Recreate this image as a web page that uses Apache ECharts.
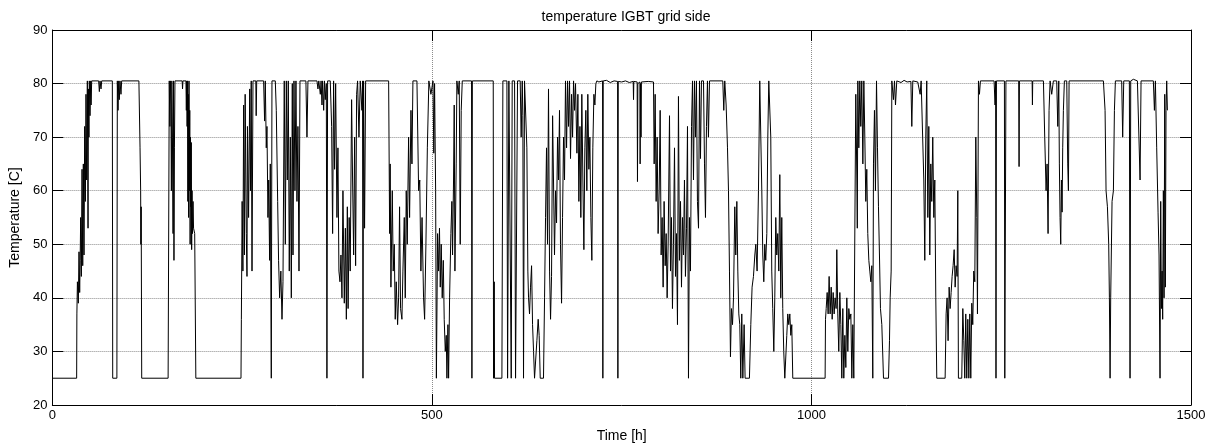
<!DOCTYPE html>
<html>
<head>
<meta charset="utf-8">
<title>temperature IGBT grid side</title>
<script src="https://cdn.jsdelivr.net/npm/echarts/dist/echarts.min.js"></script>
<style>
  html, body { margin: 0; padding: 0; background: #fff; }
  #chart { width: 1210px; height: 448px; }
</style>
</head>
<body>
<div id="chart"></div>
<script>
// [hour, temperature °C], one array per stretch of time
var run0 = [[0,25],[32,25],[32.3,37],[33,43],[34.2,39],[35.1,48.6],[36,41],[36.6,47],[37.3,55],[38.2,44],[39.1,64],[40,46],[40.8,65],[41.7,48],[42.6,72],[43.5,58],[44.3,78],[45.2,62],[46.1,80.5],[47,53],[47.5,79],[48.2,70],[48.7,80.5],[49.6,74],[50.5,80.5],[51,76],[51.8,80.5],[61,80.5],[61.9,78.5],[62.8,80.5],[64.1,79],[65,80.5],[79,80.5],[79.5,25],[85,25],[85.6,80.5],[86.5,75],[87.4,80.5],[88.2,77],[89.1,80.5],[90.4,78],[91.3,80.5],[114,80.5],[115.5,68],[116.3,60],[116.6,50],[117,57],[117.7,25],[152.5,25],[153.5,62],[154,80.5],[154.8,72],[155.5,80.5],[156.2,76],[156.8,60],[157.4,80.5],[158.2,70],[159,52],[159.6,80.5],[160.2,47],[160.8,68],[161.5,80.5],[171,80.5],[171.5,79],[172,80.5],[176,80.5],[176.5,75],[177,80.5],[177.5,72],[178,80.5],[178.5,58],[179,78],[179.5,55],[180,80.5],[180.5,60],[181,75],[181.5,50],[182,70],[182.5,57],[183,69],[183.5,49],[184,60],[184.6,52],[185.3,58],[186,53],[187.5,52],[189,25],[248.5,25]];
var run1 = [[249,36],[250,58],[251,45],[252,76],[253,48],[254,78],[255.5,52],[256.4,44],[257,72],[258.5,55],[260,79],[261,60],[262,80.5],[263,45],[264.3,80.5],[268,80.5],[268.5,74],[269.2,80.5],[278.3,80.5],[279.6,73],[280.5,80.5],[281.8,68],[282.7,72],[284,55],[285,62],[286.2,47],[287.1,65],[288.4,25],[289.3,80.5],[293.7,80.5],[295,75],[296.8,58],[298,47],[299.4,40],[301,45],[302.5,36],[303.8,43],[305.5,80.5],[306.9,50],[308.2,80.5],[309.5,62],[310.8,80.5],[312.1,45],[313.5,70],[314.8,40],[316.1,80],[317,48],[318.3,80.5],[319.6,60],[320.9,80.5],[322.2,58],[323.5,72],[324.9,45],[326.2,80.5],[334,80.5],[335.4,70],[336.7,80.5],[348.6,80.5],[349.9,79],[351,80.5],[353,78],[354,80.5],[355.2,76],[356,80.5],[357.4,75],[358.5,80.5],[359.5,77],[360.9,80],[361.7,25],[362.6,80.5],[366.1,80.5],[367.9,72],[369.2,52],[370.5,80.5],[371.8,64],[373.2,80],[374.9,55],[376.2,68],[377.5,45],[378.9,43],[380.2,48],[381.5,40],[382.8,60],[384.6,39],[386,53],[387.3,36],[388.6,57],[389.6,38],[391,55],[392.4,45],[394.2,77],[395.5,62],[396.9,48],[398.2,70],[399.5,46],[400.8,78],[402.1,80.5],[403.9,70],[405.6,80.5],[407.8,75],[408.6,80.5],[409.2,25],[410,80.5],[411.3,53],[412.7,80.5],[443,80.5],[444.3,52],[445,65],[446,42],[447.8,60],[449,45],[450.4,50],[451.7,36],[453,43],[454.8,35],[456.1,40],[457.4,57],[458.7,38],[460.5,36],[461.8,45],[463.6,55],[464.9,40],[466.2,60],[467.5,50],[469.3,70],[470.6,55],[472.4,75],[473.7,65],[475,80.5],[480.3,80.5],[482.5,60],[484,62],[485.5,45],[487,55],[489,40],[490.4,36],[492.1,50],[494,68],[496,80.5],[498.7,78],[501.4,80.5],[502.5,67],[503.5,80],[504.9,60],[505.9,25]];
var run2 = [[506.8,25],[507.5,52],[508.8,45],[510,53],[511,42],[512.3,50],[513.6,40],[515,47],[516.2,36],[517.6,30],[518.9,33],[519.8,25],[521.1,35],[522,25],[523.3,40],[525,52],[526.3,58],[527.2,48],[528.5,62],[529.4,76],[530.3,45],[532,65],[532.9,80.5],[534.7,78],[536,80.5],[537.3,50],[538.6,75],[540,80.5],[552.2,80.5],[552.7,25],[553.3,80.5],[580.8,80.5],[581.2,25],[582.1,43],[582.5,25],[592.2,25],[593.5,80.5],[598.8,80.5],[599.7,25],[600.5,25],[601.4,80.5],[603.2,80.5],[604.5,25],[605.8,80.5],[608.9,80.5],[610.2,25],[611.5,25],[612.8,80.5],[616.3,80.5],[617.6,70],[619,80.5],[619.8,74],[620.7,25],[622,80.5],[623.8,80.5],[625.1,68],[626.4,45],[627.3,40],[628.6,37],[629.9,42],[631.3,46],[632.6,35],[633.9,30],[635.2,25],[637,25],[638.3,32],[640,36],[641.3,33],[642.7,25],[647,25],[648.4,40],[649.7,55],[651,68],[652.3,50],[653.6,79],[655,45],[656.3,36],[657.6,44],[659,74],[660.2,62],[661.5,48],[662.9,60],[664.2,54],[665.5,70],[666.8,62],[668.1,75],[669.4,50],[670.8,39],[672.1,55],[673.4,70],[674.7,62],[676,80.5],[677.4,68],[678.7,80.5],[680,72],[681.3,80.5],[682.6,66],[684,78],[685.3,70],[686.6,80.5],[687.9,75],[689.2,80],[691,67],[692.3,78],[693.6,58],[695,72],[696.2,55],[697.5,78],[698.9,62],[700.2,49],[701.5,68],[702.8,75],[704.1,60],[705.4,78],[706.8,64],[708.1,70],[709.4,55],[710.7,47],[712,68],[713.4,78],[714.7,76],[716,80],[717.3,80.5],[720,80.3],[724.8,80.5],[725.2,25],[725.7,80.5],[730,80.6],[735,80.2],[740,80.5],[744.6,80.4],[745,25],[745.5,80.4],[750,80.3]];
var run3 = [[755,80.5],[760,80.2],[765.2,80.4],[765.6,77],[766,80.4],[770.4,80.3],[770.8,61.7],[771.3,80],[774,80.3],[774.3,65],[774.8,80],[775.5,70],[776,80.3],[785,80.4],[791.9,80.3],[792.8,65],[794.1,78],[795.4,58],[796.7,70],[798,52],[799.4,60],[800.7,75],[802,48],[803.3,55],[804.6,42],[805.9,58],[807.3,46],[808.6,52],[809.9,40],[811.2,50],[813,74],[814.3,45],[815.6,55],[816.9,38],[818.2,50],[819.6,68],[820.9,44],[822.2,52],[823.5,35],[824.8,77.6],[826.1,47],[827.5,58],[828.8,42],[830.1,55],[831.4,48],[832.7,62],[834,44],[835.4,53],[836.7,72],[838,25],[839.3,55],[840.6,45],[842,72],[843.3,80.5],[844.6,62],[845.9,80.5],[847.2,70],[848.5,80.5],[849.8,58],[851.2,53],[852.5,80.5],[853.8,66],[855.1,80.5],[857.8,80.5],[859.1,65],[860.4,55],[861.7,72],[863,80.5],[864.3,70],[865.7,80.5],[883.2,80.5],[884.5,75],[885.8,80.5],[887.6,76],[889.4,68],[890.7,60],[892,45],[893.3,29],[894.6,38],[896,35],[897.3,40],[899,57],[900.3,48],[901.7,58],[903,45],[904.3,37],[905.6,35],[906.9,25],[908.2,37],[909.6,25],[911.3,35],[912.6,25],[918.3,25],[920.1,35],[921.8,42],[923.6,44],[925.4,48],[926.7,50],[928.4,45],[930.2,60],[931.9,80.5],[933.3,80.5],[934.6,60],[935.9,48],[937.2,43],[938.5,50],[939.8,47],[941.2,52],[942.5,70],[943.8,80.5],[945.1,80.5],[946.4,70],[947.7,45],[949,38],[950.4,30],[951.7,40],[953,55],[954.3,48],[955.6,52],[957,45],[958.3,63],[959.6,40],[960.9,55],[962.2,38],[963.5,30],[964.9,25],[966.2,25],[967.5,33],[968.8,37],[970.1,35],[971.5,37],[972.8,33],[974.1,35],[975.4,25],[1018,25]];
var run4 = [[1018.5,36],[1019.4,38],[1020.7,41],[1022,37],[1023.3,44],[1024.6,37],[1026,42],[1027.3,36],[1028.6,41],[1029.9,37],[1031.2,40],[1032.5,38],[1033.4,49],[1034.7,37],[1036,30],[1037.4,41],[1038.7,35],[1040,25],[1041.3,38],[1042.6,25],[1044,33],[1045.3,27],[1046.6,40],[1047.9,30],[1049.2,38],[1050.5,36],[1051.9,37],[1053.2,25],[1054.5,35],[1055.8,25],[1057.1,25],[1058.4,78],[1059.8,62],[1060.4,53],[1061.1,80.5],[1062.4,68],[1063.7,80.5],[1065,72],[1066.3,80.5],[1067.7,65],[1069,80.5],[1070.3,70],[1071.6,58],[1072.9,64],[1074.2,52],[1075.6,47],[1076.9,45],[1078.2,43],[1079.5,46],[1080.8,25],[1081.7,65],[1083,75],[1084.3,60],[1085.7,80.5],[1087,68],[1088.3,57],[1089.6,48],[1090.9,38],[1092.7,35],[1094.9,25],[1101.5,25],[1102.8,32],[1103.7,40],[1105,45],[1105.9,80.5],[1108,77],[1109.4,80.5],[1110.7,76],[1112.4,80.5],[1118,80.2],[1122,80.6],[1126,80.3],[1131,80.4],[1132.2,72],[1133.5,80.5],[1140,80.3],[1143.2,78],[1144.5,80.5],[1146.7,80.5],[1148,62],[1149.3,47],[1150.6,70],[1151.9,80.5],[1153.3,55],[1154.6,72],[1155.9,48],[1157.2,65],[1158.5,58],[1159.8,70],[1161.2,55],[1162.5,62],[1163.8,40],[1165.1,25],[1176.1,25],[1177.4,37],[1178.7,40],[1180,32],[1181.4,42],[1182.7,38],[1184,41],[1185.3,44],[1186.6,46],[1188,49],[1189.3,42],[1190.6,46],[1191.9,44],[1192.8,60],[1193.6,25],[1198,25],[1199.4,38],[1200.7,32],[1202,25],[1203.3,37],[1204.6,25],[1206,36],[1207.3,25],[1208.6,37],[1209.9,25],[1211.2,39],[1212.5,35],[1213.8,45],[1215.2,43],[1216.5,70],[1217.8,55],[1218.7,37],[1220,80.5],[1221.3,78],[1222.6,80.5],[1240.6,80.5],[1241.9,76],[1242.6,80.5],[1243.1,25],[1243.7,80.5],[1254.2,80.5],[1254.7,25],[1255.6,25],[1256.2,80.5]];
var run5 = [[1273,80.5],[1273.5,64.5],[1274,80.5],[1290.7,80.5],[1291.1,76],[1291.5,80.5],[1305.6,80.5],[1307.3,70],[1309.1,60],[1310.4,65],[1311.7,52],[1313,75],[1314.4,80.5],[1316.5,78],[1318.7,80.5],[1323.1,80.5],[1324.5,72],[1325.8,80.5],[1326.6,65],[1327.5,55],[1328.4,50],[1329.3,62],[1330.2,56],[1331,68],[1331.9,75],[1333.2,80.5],[1336.3,80.5],[1337.6,65],[1338.5,60],[1339.4,80.5],[1384.6,80.5],[1386.8,75],[1388.1,60],[1389.9,57],[1391.6,50],[1392.5,40],[1393.4,25],[1394.2,40],[1396,58],[1397.8,60],[1399.1,75],[1400.4,80.5],[1408.7,80.5],[1410,70],[1411.4,80.5],[1418.8,80.5],[1419.7,25],[1420.6,80.5],[1424.1,80.8],[1426.3,81],[1429.4,80.5],[1432,80.5],[1432.9,62],[1434.2,80.5],[1450.4,80.5],[1451.8,75],[1453.1,80.5],[1454.8,68],[1456.6,56],[1457.9,48],[1459.2,25],[1460.1,58],[1461,38],[1461.9,45],[1462.7,36],[1463.6,60],[1464.5,40],[1465.4,78],[1466.2,42],[1467.1,75],[1468,80.5],[1468.9,75]];

var xTicks = [0, 500, 1000, 1500];
var yTicks = [20, 30, 40, 50, 60, 70, 80, 90];

var tempData = [].concat(run0, run1, run2, run3, run4, run5);

var font = 'Liberation Sans, Arial, sans-serif';
var myChart = echarts.init(document.getElementById('chart'));

var boxAxis = function (pos, isX) {
  return {
    type: 'value',
    position: pos,
    min: isX ? xTicks[0] : yTicks[0],
    max: isX ? xTicks[xTicks.length - 1] : yTicks[yTicks.length - 1],
    interval: isX ? 500 : 10,
    axisLine: { show: true, onZero: false, lineStyle: { color: '#000', width: 1 } },
    axisTick: { show: true, inside: true, length: 11, lineStyle: { color: '#000' } },
    axisLabel: { show: false },
    splitLine: { show: false }
  };
};

var option = {
  animation: false,
  backgroundColor: '#fff',
  title: {
    text: 'temperature IGBT grid side',
    left: 621,
    top: 5,
    textAlign: 'center',
    textStyle: { fontSize: 14, fontWeight: 'normal', color: '#000', fontFamily: font }
  },
  grid: { left: 52, right: 19, top: 30, bottom: 43 },
  xAxis: [
    {
      type: 'value',
      position: 'bottom',
      min: 0,
      max: 1500,
      interval: 500,
      name: 'Time [h]',
      nameLocation: 'middle',
      nameGap: 24,
      nameTextStyle: { fontSize: 14, color: '#000', fontFamily: font },
      axisLine: { onZero: false, lineStyle: { color: '#000', width: 1 } },
      axisTick: { inside: true, length: 11, lineStyle: { color: '#000' } },
      axisLabel: { color: '#000', fontSize: 13, margin: 4, fontFamily: font, formatter: function (v) { return String(v); } },
      splitLine: { show: true, lineStyle: { color: '#8c8c8c', type: 'dotted', width: 1 } }
    },
    boxAxis('top', true)
  ],
  yAxis: [
    {
      type: 'value',
      position: 'left',
      min: 20,
      max: 90,
      interval: 10,
      name: 'Temperature [C]',
      nameLocation: 'middle',
      nameGap: 29,
      nameTextStyle: { fontSize: 14, color: '#000', fontFamily: font },
      axisLine: { onZero: false, lineStyle: { color: '#000', width: 1 } },
      axisTick: { inside: true, length: 11, lineStyle: { color: '#000' } },
      axisLabel: { color: '#000', fontSize: 13, margin: 5, fontFamily: font },
      splitLine: { show: true, lineStyle: { color: '#8c8c8c', type: 'dotted', width: 1 } }
    },
    boxAxis('right', false)
  ],
  series: [
    {
      type: 'line',
      xAxisIndex: 0,
      yAxisIndex: 0,
      data: tempData,
      showSymbol: false,
      sampling: null,
      lineStyle: { color: '#000', width: 1 },
      emphasis: { disabled: true }
    }
  ]
};

myChart.setOption(option);
</script>
</body>
</html>
